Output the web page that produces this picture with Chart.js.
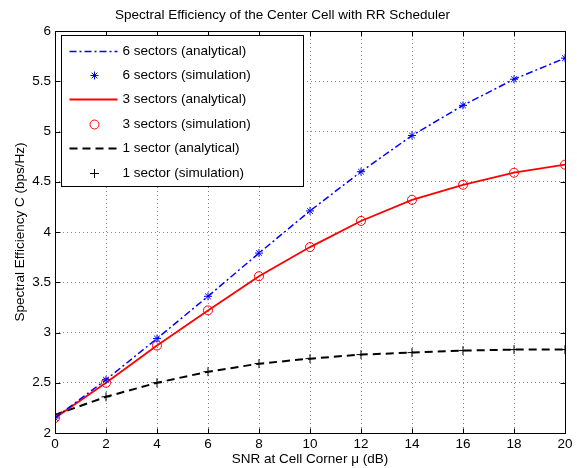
<!DOCTYPE html>
<html>
<head>
<meta charset="utf-8">
<script src="https://cdn.jsdelivr.net/npm/chart.js@4/dist/chart.umd.min.js"></script>
<style>
  body { margin: 0; background: #fff; }
  #wrap { width: 577px; height: 468px; }
</style>
</head>
<body>
<div id="wrap"><canvas id="myChart" width="577" height="468"></canvas></div>
<script>
// SNR at cell corner (dB)
var snrValues = [0, 2, 4, 6, 8, 10, 12, 14, 16, 18, 20];

// spectral efficiency (bps/Hz)
var sixAnalytical = [2.15, 2.53, 2.94, 3.36, 3.79, 4.21, 4.60, 4.96, 5.26, 5.52, 5.73];
var sixSimulation = [2.15, 2.53, 2.94, 3.36, 3.79, 4.21, 4.60, 4.96, 5.26, 5.52, 5.73];
var threeAnalytical = [2.15, 2.50, 2.87, 3.22, 3.56, 3.85, 4.11, 4.32, 4.47, 4.59, 4.67];
var threeSimulation = [2.15, 2.50, 2.87, 3.22, 3.56, 3.85, 4.11, 4.32, 4.47, 4.59, 4.67];
var oneAnalytical = [2.18, 2.36, 2.50, 2.61, 2.69, 2.74, 2.78, 2.80, 2.82, 2.83, 2.83];
var oneSimulation = [2.18, 2.36, 2.50, 2.61, 2.69, 2.74, 2.78, 2.80, 2.82, 2.83, 2.83];

var seriesLabels = [
    "6 sectors (analytical)", "6 sectors (simulation)",
    "3 sectors (analytical)", "3 sectors (simulation)",
    "1 sector (analytical)", "1 sector (simulation)"
];

var FONT = "'Liberation Sans', Arial, Helvetica, sans-serif";

function pts(ys) {
    return snrValues.map(function (x, i) { return { x: x, y: ys[i] }; });
}

function lineSet(label, ys, color, dash, width) {
    return {
        label: label, data: pts(ys), borderColor: color, backgroundColor: color,
        borderWidth: width, borderDash: dash, pointRadius: 0, tension: 0,
        showLine: true, fill: false
    };
}

function markSet(label, ys, color, style, r) {
    return {
        label: label, data: pts(ys), borderColor: color, backgroundColor: "rgba(0,0,0,0)",
        borderWidth: 1, pointStyle: style, pointRadius: r, showLine: false
    };
}

// matlab style box, inward ticks and the legend
var axesBox = {
    id: "axesBox",
    afterDraw: function (chart) {
        var ctx = chart.ctx, a = chart.chartArea;
        var xs = chart.scales.x, ys = chart.scales.y;
        ctx.save();
        ctx.strokeStyle = "#000";
        ctx.lineWidth = 1;
        ctx.setLineDash([]);
        var L = Math.round(a.left) + 0.5, R = Math.round(a.right) + 0.5;
        var T = Math.round(a.top) + 0.5, B = Math.round(a.bottom) + 0.5;
        ctx.strokeRect(L, T, R - L, B - T);
        ctx.beginPath();
        xs.ticks.forEach(function (t) {
            var px = Math.round(xs.getPixelForValue(t.value)) + 0.5;
            ctx.moveTo(px, B); ctx.lineTo(px, B - 5);
            ctx.moveTo(px, T); ctx.lineTo(px, T + 5);
        });
        ys.ticks.forEach(function (t) {
            var py = Math.round(ys.getPixelForValue(t.value)) + 0.5;
            ctx.moveTo(L, py); ctx.lineTo(L + 5, py);
            ctx.moveTo(R, py); ctx.lineTo(R - 5, py);
        });
        ctx.stroke();

        // legend
        var lx = L + 6, ly = T + 4, lw = 242, lh = 151;
        ctx.fillStyle = "#fff";
        ctx.fillRect(lx, ly, lw, lh);
        ctx.strokeRect(lx, ly, lw, lh);
        ctx.font = "13.5px " + FONT;
        ctx.textBaseline = "middle";
        ctx.textAlign = "left";
        chart.data.datasets.forEach(function (ds, i) {
            var cy = Math.round(ly + 15 + i * 24.4) + 0.5;
            ctx.strokeStyle = ds.borderColor;
            if (ds.showLine) {
                ctx.lineWidth = ds.borderWidth;
                ctx.setLineDash(ds.borderDash || []);
                ctx.beginPath();
                ctx.moveTo(lx + 8, cy); ctx.lineTo(lx + 56, cy);
                ctx.stroke();
                ctx.setLineDash([]);
            } else {
                ctx.fillStyle = "rgba(0,0,0,0)";
                ctx.lineWidth = 1;
                Chart.helpers.drawPoint(ctx, {
                    pointStyle: ds.pointStyle, radius: ds.pointRadius,
                    borderWidth: 1, rotation: 0
                }, lx + 33, cy);
            }
            ctx.fillStyle = "#000";
            ctx.fillText(ds.label, lx + 61, cy);
        });
        ctx.restore();
    }
};

new Chart("myChart", {
    type: "scatter",
    data: {
        datasets: [
            lineSet(seriesLabels[0], sixAnalytical, "#0000ff", [7, 3, 2, 3], 1.5),
            markSet(seriesLabels[1], sixSimulation, "#0000ff", "star", 4),
            lineSet(seriesLabels[2], threeAnalytical, "#ff0000", [], 1.8),
            markSet(seriesLabels[3], threeSimulation, "#ff0000", "circle", 4.5),
            lineSet(seriesLabels[4], oneAnalytical, "#000000", [8, 5], 2),
            markSet(seriesLabels[5], oneSimulation, "#000000", "cross", 4.5)
        ]
    },
    options: {
        responsive: false,
        animation: false,
        layout: { padding: { left: 0, right: 12, top: 0, bottom: 0 } },
        plugins: {
            legend: { display: false },
            tooltip: { enabled: false },
            title: {
                display: true,
                text: "Spectral Efficiency of the Center Cell with RR Scheduler",
                color: "#000",
                font: { family: FONT, size: 13.5, weight: "normal" },
                padding: { top: 7, bottom: 7.8 }
            }
        },
        scales: {
            x: {
                type: "linear", min: 0, max: 20,
                ticks: { stepSize: 2, color: "#000", padding: 3, font: { family: FONT, size: 13.5 } },
                grid: { color: "#888", lineWidth: 1, drawTicks: false },
                border: { display: false, dash: [1, 3] },
                title: {
                    display: true, text: "SNR at Cell Corner \u03bc (dB)", color: "#000",
                    font: { family: FONT, size: 13.5 }, padding: { top: 0, bottom: 1 }
                },
                afterFit: function (s) { s.height = 35; }
            },
            y: {
                type: "linear", min: 2, max: 6,
                ticks: {
                    stepSize: 0.5, color: "#000", padding: 4, font: { family: FONT, size: 13.5 },
                    callback: function (v) { return String(v); }
                },
                grid: { color: "#888", lineWidth: 1, drawTicks: false },
                border: { display: false, dash: [1, 3] },
                title: {
                    display: true, text: "Spectral Efficiency C (bps/Hz)", color: "#000",
                    font: { family: FONT, size: 13.5 }, padding: { top: 12.5, bottom: 0 }
                },
                afterFit: function (s) { s.width = 55; }
            }
        }
    },
    plugins: [axesBox]
});
</script>
</body>
</html>
